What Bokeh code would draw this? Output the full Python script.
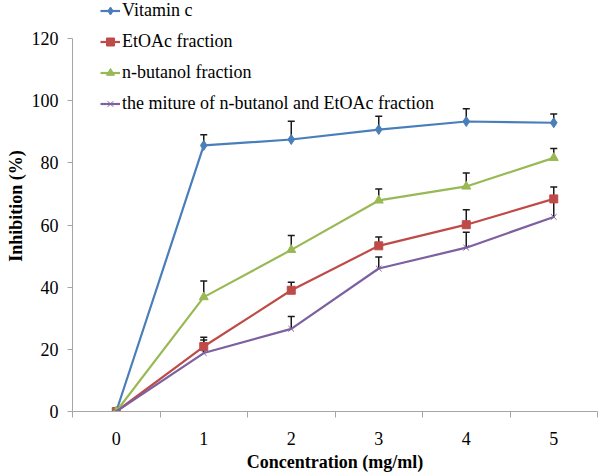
from bokeh.plotting import figure
from bokeh.models import Range1d, FixedTicker, Whisker, ColumnDataSource, Legend, TeeHead
from bokeh.embed import file_html
from bokeh.resources import INLINE

# ---- data ----
conc = [0, 1, 2, 3, 4, 5]
y_ticks = [0, 20, 40, 60, 80, 100, 120]

vitc = [0, 85.6, 87.5, 90.7, 93.3, 92.9]
vitc_err = [0, 3.4, 5.9, 4.3, 4.1, 2.8]
etoac = [0, 20.9, 39.0, 53.3, 60.1, 68.4]
etoac_err = [0, 3.0, 2.6, 2.8, 4.8, 3.8]
nbut = [0, 36.8, 52.0, 67.9, 72.4, 81.6]
nbut_err = [0, 5.2, 4.6, 3.7, 4.3, 3.0]
mix = [0, 18.8, 26.6, 46.0, 52.7, 62.6]
mix_err = [0, 4.2, 4.0, 3.7, 5.0, 5.5]

labels = ["Vitamin c", "EtOAc fraction", "n-butanol fraction",
          "the miture of n-butanol and EtOAc fraction"]

FONT = "'Liberation Serif', serif"

# frame spans 0..120 over 373 px; extra headroom above 120 holds the legend
px_per_unit = 373 / 120
y_top = 411 / px_per_unit

p = figure(frame_width=525, frame_height=411, width=600, height=476,
           min_border_left=72, min_border_right=3, min_border_top=0, min_border_bottom=65,
           x_range=Range1d(-0.5, 5.5), y_range=Range1d(0, y_top),
           output_backend="svg", toolbar_location=None)
p.outline_line_color = None
p.xgrid.grid_line_color = None
p.ygrid.grid_line_color = None
p.background_fill_color = "white"

series = [
    (vitc, vitc_err, "#4a7ebb", "diamond", 10, labels[0]),
    (etoac, etoac_err, "#be4b48", "square", 8, labels[1]),
    (nbut, nbut_err, "#98b954", "triangle", 9, labels[2]),
    (mix, mix_err, "#7d60a0", "x", 8, labels[3]),
]

items = []
for vals, errs, col, mk, sz, lab in series:
    src = ColumnDataSource(dict(x=conc, y=vals, up=[v + e for v, e in zip(vals, errs)]))
    w = Whisker(base="x", lower="y", upper="up", source=src, dimension="height",
                line_color="#1a1a1a", line_width=1.5,
                upper_head=TeeHead(size=7, line_color="#1a1a1a", line_width=1.5),
                lower_head=None)
    p.add_layout(w)
    r1 = p.line("x", "y", source=src, line_color=col, line_width=2.2)
    r2 = p.scatter("x", "y", source=src, marker=mk, size=sz, fill_color=col,
                   line_color=col, line_width=1)
    items.append((lab, [r1, r2]))

legend = Legend(items=items, location=(28, 297), padding=0, margin=0, spacing=10,
                label_height=21, glyph_height=21, glyph_width=20, label_standoff=2,
                label_text_font=FONT, label_text_font_size="18px", label_text_color="black",
                background_fill_alpha=0, border_line_color=None)
p.add_layout(legend)

# x axis
xa = p.xaxis[0]
xa.ticker = FixedTicker(ticks=conc, minor_ticks=[c - 0.5 for c in conc] + [conc[-1] + 0.5])
xa.major_tick_line_color = None
xa.major_tick_out = 0
xa.major_tick_in = 0
xa.minor_tick_line_color = "#a6a6a6"
xa.minor_tick_out = 6
xa.minor_tick_in = 0
xa.axis_line_color = "#a6a6a6"
xa.major_label_text_font = FONT
xa.major_label_text_font_size = "18px"
xa.major_label_text_color = "black"
xa.major_label_standoff = 14
xa.axis_label = "Concentration (mg/ml)"
xa.axis_label_text_font = FONT
xa.axis_label_text_font_size = "18px"
xa.axis_label_text_font_style = "bold"
xa.axis_label_text_color = "black"
xa.axis_label_standoff = 4

# y axis
ya = p.yaxis[0]
ya.ticker = FixedTicker(ticks=y_ticks)
ya.bounds = (y_ticks[0], y_ticks[-1])
ya.axis_line_color = "#a6a6a6"
ya.major_tick_line_color = "#a6a6a6"
ya.major_tick_out = 5
ya.major_tick_in = 0
ya.minor_tick_line_color = None
ya.major_label_text_font = FONT
ya.major_label_text_font_size = "18px"
ya.major_label_text_color = "black"
ya.major_label_standoff = 9
ya.axis_label = "Inhibition (%)"
ya.axis_label_text_font = FONT
ya.axis_label_text_font_size = "18px"
ya.axis_label_text_font_style = "bold"
ya.axis_label_text_color = "black"
ya.axis_label_standoff = 3

open("out.html", "w").write(file_html(p, INLINE))
